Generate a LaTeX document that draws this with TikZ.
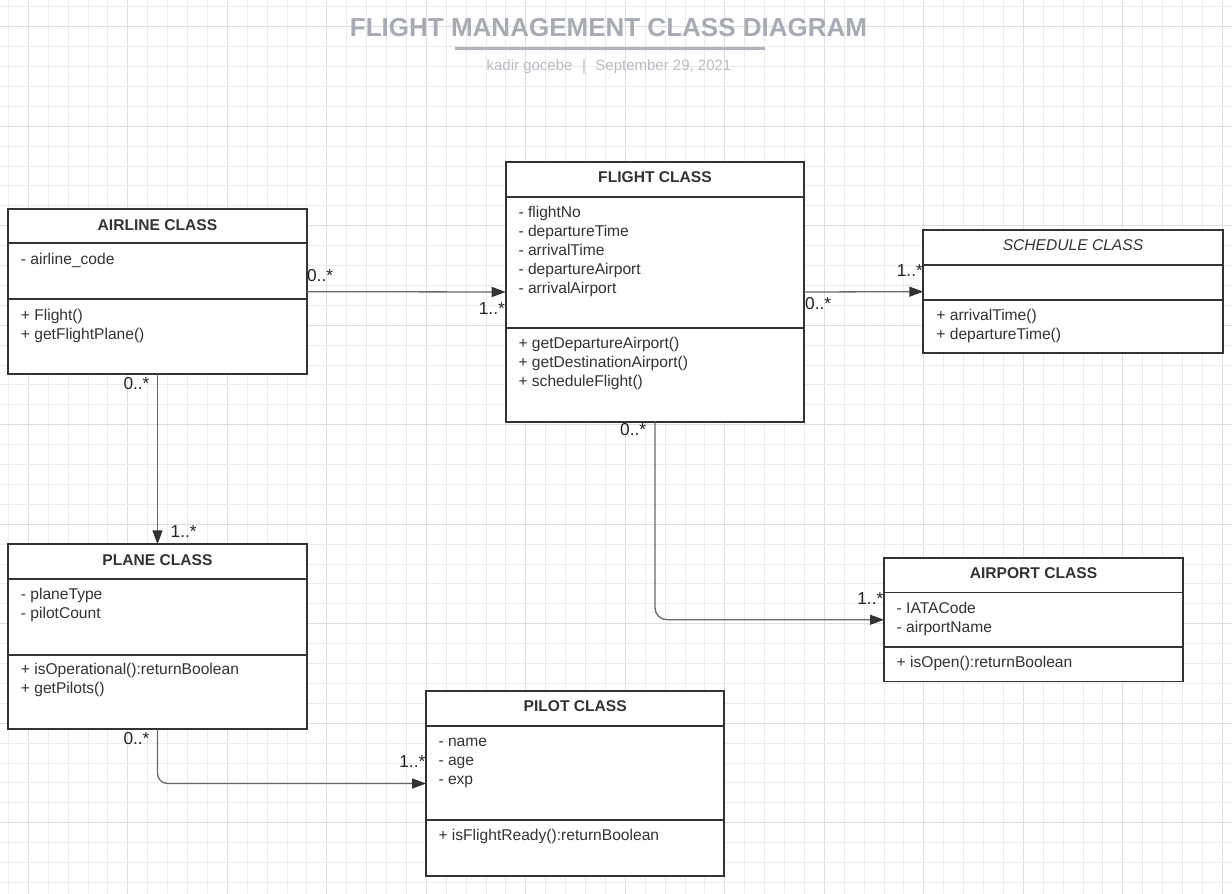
\documentclass[tikz,border=0pt]{standalone}
\usepackage{fontspec}
\setmainfont{Liberation Sans}
\usetikzlibrary{arrows.meta}
\definecolor{gminorc}{RGB}{236,236,236}
\definecolor{gmajorc}{RGB}{222,222,222}
\definecolor{ink}{RGB}{51,51,51}
\definecolor{conncol}{RGB}{105,105,105}
\definecolor{titlecol}{RGB}{167,171,179}
\definecolor{subcol}{RGB}{185,188,195}
\definecolor{multcol}{RGB}{34,34,34}
\begin{document}
\begin{tikzpicture}[x=1pt,y=-1pt,
  gminor/.style={draw=gminorc,line width=1pt},
  gmajor/.style={draw=gmajorc,line width=1pt},
  classbox/.style={draw=ink,line width=1.8pt,fill=white,rectangle,outer sep=0pt,inner sep=0pt,anchor=north west},
  divider/.style={draw=ink,line width=1.8pt},
  hdr/.style={font=\fontsize{15.6}{18}\selectfont\bfseries,text=ink,anchor=base,inner sep=0pt},
  hdri/.style={font=\fontsize{15.6}{18}\selectfont\itshape,text=ink,anchor=base,inner sep=0pt},
  txt/.style={font=\fontsize{15.6}{18}\selectfont,text=ink,anchor=base west,inner sep=0pt},
  mult/.style={font=\fontsize{17.3}{20}\selectfont,text=multcol,inner sep=0pt},
  conn/.style={draw=conncol,line width=1.3pt,-{Triangle[length=14pt,width=10pt,color=ink]}},
  titletext/.style={font=\fontsize{26}{30}\selectfont\bfseries,text=titlecol,anchor=base,inner sep=0pt},
  subtext/.style={font=\fontsize{15}{18}\selectfont,text=subcol,anchor=base,inner sep=0pt},
  uline/.style={draw=titlecol!90,line width=2.5pt}
]
\useasboundingbox (0,0) rectangle (1232,894);
\fill[white] (0,0) rectangle (1232,894);
% grid
\foreach \i in {-1,...,61}{
  \pgfmathtruncatemacro{\m}{mod(\i+5,5)}
  \ifnum\m=0 \draw[gmajor] ({28.3+19.9*\i},0) -- ({28.3+19.9*\i},894);
  \else \draw[gminor] ({28.3+19.9*\i},0) -- ({28.3+19.9*\i},894); \fi
}
\foreach \j in {-1,...,44}{
  \pgfmathtruncatemacro{\m}{mod(\j+5,5)}
  \ifnum\m=0 \draw[gmajor] (0,{26.7+19.9*\j}) -- (1232,{26.7+19.9*\j});
  \else \draw[gminor] (0,{26.7+19.9*\j}) -- (1232,{26.7+19.9*\j}); \fi
}

% title
\node[titletext] (title) at (608.5,36) {FLIGHT MANAGEMENT CLASS DIAGRAM};
\draw[uline] (455,48.3) -- (765,48.3);
\node[subtext] (subtitle) at (609,70.5) {kadir gocebe\hspace{9.5pt}|\hspace{9.5pt}September 29, 2021};

% AIRLINE
\node[classbox,minimum width=298.4pt,minimum height=165.3pt] (airline) at (8.3,209) {};
\draw[divider] (8.3,243.3) -- (306.7,243.3);
\draw[divider] (8.3,299.3) -- (306.7,299.3);
\node[hdr] (airline-h) at (157.5,230) {AIRLINE CLASS};
\node[txt] (airline-a1) at (20.7,264.3) {- airline\_code};
\node[txt] (airline-m1) at (20.7,320) {+ Flight()};
\node[txt] (airline-m2) at (20.7,339.2) {+ getFlightPlane()};

% FLIGHT
\node[classbox,minimum width=298.6pt,minimum height=259.4pt] (flight) at (505.7,162.3) {};
\draw[divider] (505.7,197) -- (804.3,197);
\draw[divider] (505.7,328.3) -- (804.3,328.3);
\node[hdr] (flight-h) at (655,182.3) {FLIGHT CLASS};
\node[txt] (flight-a1) at (518.3,217.7) {- flightNo};
\node[txt] (flight-a2) at (518.3,236.6) {- departureTime};
\node[txt] (flight-a3) at (518.3,255.5) {- arrivalTime};
\node[txt] (flight-a4) at (518.3,274.3) {- departureAirport};
\node[txt] (flight-a5) at (518.3,293) {- arrivalAirport};
\node[txt] (flight-m1) at (518.3,348.3) {+ getDepartureAirport()};
\node[txt] (flight-m2) at (518.3,367.2) {+ getDestinationAirport()};
\node[txt] (flight-m3) at (518.3,386) {+ scheduleFlight()};

% SCHEDULE
\node[classbox,minimum width=299.4pt,minimum height=123.3pt] (schedule) at (923.3,230) {};
\draw[divider] (923.3,265) -- (1222.7,265);
\draw[divider] (923.3,300) -- (1222.7,300);
\node[hdri] (schedule-h) at (1073,250.7) {SCHEDULE CLASS};
\node[txt] (schedule-m1) at (936.2,320) {+ arrivalTime()};
\node[txt] (schedule-m2) at (936.2,339) {+ departureTime()};

% PLANE
\node[classbox,minimum width=298.4pt,minimum height=185pt] (plane) at (8.3,544.3) {};
\draw[divider] (8.3,579.3) -- (306.7,579.3);
\draw[divider] (8.3,654.7) -- (306.7,654.7);
\node[hdr] (plane-h) at (157.5,565.7) {PLANE CLASS};
\node[txt] (plane-a1) at (20.7,599.3) {- planeType};
\node[txt] (plane-a2) at (20.7,618.3) {- pilotCount};
\node[txt] (plane-m1) at (20.7,674.3) {+ isOperational():returnBoolean};
\node[txt] (plane-m2) at (20.7,693.3) {+ getPilots()};

% PILOT
\node[classbox,minimum width=298.3pt,minimum height=185pt] (pilot) at (426,691) {};
\draw[divider] (426,725.7) -- (724.3,725.7);
\draw[divider] (426,819.7) -- (724.3,819.7);
\node[hdr] (pilot-h) at (575.2,711.7) {PILOT CLASS};
\node[txt] (pilot-a1) at (438.3,746.7) {- name};
\node[txt] (pilot-a2) at (438.3,765.6) {- age};
\node[txt] (pilot-a3) at (438.3,784.4) {- exp};
\node[txt] (pilot-m1) at (438.3,840.7) {+ isFlightReady():returnBoolean};

% AIRPORT
\node[classbox,minimum width=299pt,minimum height=123.5pt] (airport) at (884,558) {};
\draw[divider] (884,592.5) -- (1183,592.5);
\draw[divider] (884,647) -- (1183,647);
\node[hdr] (airport-h) at (1033.5,578.5) {AIRPORT CLASS};
\node[txt] (airport-a1) at (896.5,613) {- IATACode};
\node[txt] (airport-a2) at (896.5,632) {- airportName};
\node[txt] (airport-m1) at (896.5,667.5) {+ isOpen():returnBoolean};

% connectors
\draw[conn] (airline.east) -- (flight.west);
\draw[conn] (flight.east) -- (schedule.west);
\draw[conn] (airline.south) -- (plane.north);
\draw[conn,rounded corners=12pt] (flight.south) |- (airport.west);
\draw[conn,rounded corners=10pt] (plane.south) |- (pilot.west);

% multiplicities
\node[mult,anchor=base west] (m-af1) at (306.9,281) {0..*};
\node[mult,anchor=base east] (m-af2) at (505,314) {1..*};
\node[mult,anchor=base west] (m-fs1) at (805,309) {0..*};
\node[mult,anchor=base east] (m-fs2) at (923,276) {1..*};
\node[mult,anchor=base west] (m-ap1) at (123.3,389) {0..*};
\node[mult,anchor=base west] (m-ap2) at (170.5,537) {1..*};
\node[mult,anchor=base west] (m-fa1) at (620,435.5) {0..*};
\node[mult,anchor=base east] (m-fa2) at (883.5,604.5) {1..*};
\node[mult,anchor=base west] (m-pp1) at (123.3,744) {0..*};
\node[mult,anchor=base east] (m-pp2) at (425.5,767) {1..*};
\end{tikzpicture}
\end{document}
